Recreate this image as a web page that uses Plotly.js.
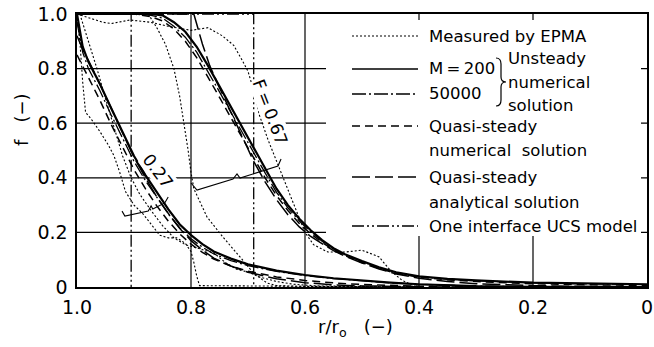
<!DOCTYPE html>
<html><head><meta charset="utf-8">
<script src="https://cdn.plot.ly/plotly-3.0.1.min.js"></script>
<style>html,body{margin:0;padding:0;background:#fff;}#chart{width:654px;height:347px;}</style>
</head><body><div id="chart"></div>
<script>
// ---- tick labels ----
const xTickVals = [1.0, 0.8, 0.6, 0.4, 0.2, 0];
const xTickText = ['1.0', '0.8', '0.6', '0.4', '0.2', '0'];
const yTickVals = [0, 0.2, 0.4, 0.6, 0.8, 1.0];
const yTickText = ['0', '0.2', '0.4', '0.6', '0.8', '1.0'];

// ---- Measured by EPMA ----
const r_epma27a = [1.0,0.995,0.99,0.985,0.975,0.96,0.945,0.935,0.925,0.915,0.9,0.885,0.87,0.855,0.84,0.825,0.81,0.8,0.795,0.79,0.785,0.6,0.4];
const f_epma27a = [1.0,0.9,0.75,0.64,0.615,0.57,0.52,0.48,0.42,0.35,0.3,0.27,0.23,0.19,0.18,0.18,0.16,0.13,0.09,0.04,0.005,0.003,0.0];
const r_epma27b = [0.995,0.98,0.965,0.95,0.935,0.92,0.905,0.89,0.87,0.85,0.83,0.81,0.795,0.76,0.74,0.72,0.70,0.68,0.65,0.62,0.58,0.5,0.4];
const f_epma27b = [1.0,0.9,0.8,0.69,0.58,0.48,0.40,0.34,0.28,0.225,0.18,0.155,0.146,0.125,0.09,0.065,0.055,0.037,0.02,0.01,0.004,0.002,0.0];
const r_epma67a = [1.0,0.955,0.94,0.907,0.872,0.84,0.80,0.77,0.745,0.725,0.71,0.70,0.69,0.68,0.665,0.65,0.635,0.615,0.60,0.585,0.56,0.53,0.50,0.47,0.45,0.43,0.41,0.40];
const f_epma67a = [1.0,0.97,0.965,0.978,0.97,0.955,0.94,0.95,0.92,0.885,0.83,0.79,0.72,0.63,0.54,0.46,0.38,0.28,0.2,0.155,0.128,0.128,0.135,0.11,0.06,0.025,0.005,0.0];
const r_epma67b = [0.875,0.86,0.845,0.83,0.82,0.812,0.805,0.80,0.795,0.772,0.744,0.714,0.69,0.667,0.65,0.6,0.5,0.4];
const f_epma67b = [1.0,0.95,0.89,0.8,0.7,0.6,0.5,0.42,0.36,0.257,0.183,0.11,0.05,0.015,0.005,0.002,0.001,0.0];

// ---- computed, F = 0.27 ----
const r_c27 = [1.0,0.99,0.98,0.96,0.94,0.92,0.90,0.88,0.86,0.84,0.82,0.80,0.78,0.76,0.73,0.70,0.65,0.60,0.55,0.50,0.45,0.40,0.35,0.30,0.20,0.0];
const f_m200_27 = [1.0,0.88,0.825,0.745,0.655,0.565,0.48,0.41,0.345,0.285,0.23,0.19,0.157,0.13,0.104,0.083,0.06,0.044,0.032,0.023,0.016,0.01,0.006,0.003,0.001,0];
const f_m5e4_27 = [0.97,0.86,0.80,0.72,0.63,0.545,0.46,0.39,0.327,0.268,0.217,0.177,0.146,0.121,0.097,0.078,0.057,0.042,0.031,0.022,0.015,0.01,0.006,0.003,0.001,0];
const f_qsn_27 = [0.85,0.81,0.77,0.685,0.595,0.51,0.43,0.36,0.297,0.242,0.195,0.157,0.127,0.102,0.077,0.058,0.037,0.024,0.015,0.009,0.005,0.003,0.001,0.0005,0,0];
const f_qsa_27 = [0.92,0.87,0.83,0.745,0.655,0.565,0.475,0.40,0.33,0.27,0.215,0.17,0.135,0.106,0.077,0.054,0.03,0.016,0.008,0.004,0.002,0.001,0,0,0,0];

// ---- computed, F = 0.67 ----
const r_c67 = [1.0,0.90,0.87,0.85,0.83,0.81,0.79,0.77,0.75,0.73,0.71,0.69,0.67,0.65,0.63,0.61,0.59,0.57,0.55,0.53,0.50,0.47,0.44,0.40,0.35,0.30,0.20,0.10,0.0];
const f_m200_67 = [1.0,1.0,1.0,0.995,0.97,0.935,0.88,0.81,0.735,0.66,0.585,0.51,0.435,0.36,0.30,0.25,0.208,0.172,0.142,0.12,0.095,0.072,0.054,0.039,0.03,0.024,0.016,0.012,0.01];
const f_m5e4_67 = [1.0,1.0,0.995,0.985,0.955,0.915,0.86,0.79,0.715,0.64,0.565,0.49,0.418,0.347,0.29,0.242,0.202,0.168,0.139,0.118,0.093,0.071,0.053,0.038,0.029,0.023,0.015,0.011,0.009];
const f_qsn_67 = [1.0,1.0,0.99,0.975,0.945,0.90,0.84,0.77,0.695,0.62,0.545,0.47,0.40,0.335,0.28,0.233,0.195,0.163,0.136,0.115,0.09,0.068,0.05,0.036,0.026,0.02,0.012,0.008,0.006];
const r_qsa_67 = [1.0,0.795,0.78,0.767,0.75,0.73,0.71,0.69,0.67,0.65,0.63,0.61,0.59,0.57,0.55,0.53,0.50,0.47,0.44,0.40,0.35,0.30,0.20,0.10,0.0];
const f_qsa_67 = [1.0,1.0,0.89,0.81,0.73,0.64,0.545,0.46,0.385,0.32,0.265,0.22,0.185,0.158,0.133,0.113,0.088,0.066,0.048,0.032,0.02,0.012,0.005,0.002,0.001];

// ---- one interface UCS model ----
const r_ucs27 = [1.0, 0.905, 0.905];
const f_ucs27 = [1.0, 1.0, 0.0];
const r_ucs67 = [1.0, 0.69, 0.69];
const f_ucs67 = [1.0, 1.0, 0.0];

// ---- styles ----
const FONT = 'DejaVu Sans, Liberation Sans, Arial, sans-serif';
const S_EPMA = {color:'#000', width:1.1, dash:'2px,2px'};
const S_M200 = {color:'#000', width:2.2};
const S_M5E4 = {color:'#000', width:1.3, dash:'14px,3px,2px,3px'};
const S_QSN  = {color:'#000', width:1.5, dash:'8px,5px'};
const S_QSA  = {color:'#000', width:1.5, dash:'18px,5px'};
const S_UCS  = {color:'#000', width:1.3, dash:'12px,3px,2px,3px,2px,3px'};

function tr(x, y, line){ return {x:x, y:y, type:'scatter', mode:'lines', line:line, showlegend:false, hoverinfo:'skip'}; }

const data = [
  tr(r_epma27a, f_epma27a, S_EPMA), tr(r_epma27b, f_epma27b, S_EPMA),
  tr(r_epma67a, f_epma67a, S_EPMA), tr(r_epma67b, f_epma67b, S_EPMA),
  tr(r_c27, f_qsn_27, S_QSN), tr(r_c27, f_qsa_27, S_QSA), tr(r_c27, f_m5e4_27, S_M5E4), tr(r_c27, f_m200_27, S_M200),
  tr(r_c67, f_qsn_67, S_QSN), tr(r_qsa_67, f_qsa_67, S_QSA), tr(r_c67, f_m5e4_67, S_M5E4), tr(r_c67, f_m200_67, S_M200),
  tr(r_ucs27, f_ucs27, S_UCS), tr(r_ucs67, f_ucs67, S_UCS)
];

// ---- layout helpers (pixel -> paper / axis fraction) ----
const PL = 77, PR = 647, PT = 14, PB = 287;
const PX = p => (p - PL) / (PR - PL);
const PY = p => (PB - p) / (PB - PT);
const DX = p => 1 - PX(p);   // reversed x axis: pixel -> data r/r0
const DY = p => PY(p);       // y axis 0..1: pixel -> data f

const shapes = [];
// grid lines
[0.2, 0.4, 0.6, 0.8].forEach(v => {
  shapes.push({type:'line', layer:'below', xref:'x', yref:'y', x0:1, x1:0, y0:v, y1:v, line:{color:'#000', width:1.2}});
  shapes.push({type:'line', layer:'below', xref:'x', yref:'y', x0:v, x1:v, y0:0, y1:1, line:{color:'#000', width:1.2}});
});
// white legend panel (same subplot layer, drawn after the grid)
shapes.push({type:'rect', layer:'below', xref:'x', yref:'y', x0:DX(326), x1:DX(641), y0:DY(236), y1:DY(20), fillcolor:'#fff', line:{width:0}});

// legend line samples
const legRows = [[36, S_EPMA], [69, S_M200], [94, S_M5E4], [126, S_QSN], [177, S_QSA], [226, S_UCS]];
legRows.forEach(([py, st]) => {
  shapes.push({type:'line', layer:'above', xref:'paper', yref:'paper', x0:PX(352), x1:PX(418), y0:PY(py), y1:PY(py), line:Object.assign({}, st, {width: Math.min(st.width, 1.6)})});
});
// legend brace
function pth(pts){ return pts.map(c => c[0] + ' ' + PX(c[1]).toFixed(5) + ',' + PY(c[2]).toFixed(5)).join(' '); }
shapes.push({type:'path', layer:'above', xref:'paper', yref:'paper', line:{color:'#000', width:1.2},
  path: pth([['M',496,58],['Q',501,58],['',501,64],['L',501,77],['Q',501,82],['',506,82],['Q',501,82],['',501,87],['L',501,100],['Q',501,106],['',496,106]])});
// data brackets
function dpth(pts){ return pts.map(c => c[0] + ' ' + c[1] + ',' + c[2]).join(' '); }
shapes.push({type:'path', layer:'above', xref:'x', yref:'y', line:{color:'#000', width:1.1},
  path: dpth([['M',0.8,0.381],['L',0.7895,0.355],['L',0.7263,0.3956],['L',0.7193,0.414],['L',0.714,0.399],['L',0.6474,0.443],['L',0.642,0.469]])});
shapes.push({type:'path', layer:'above', xref:'x', yref:'y', line:{color:'#000', width:1.1},
  path: dpth([['M',0.921,0.278],['L',0.916,0.26],['L',0.875,0.278],['L',0.870,0.297],['L',0.867,0.286],['L',0.846,0.308],['L',0.840,0.330]])});

function ann(text, px, py, extra){
  return Object.assign({text:text, xref:'paper', yref:'paper', x:PX(px), y:PY(py), xanchor:'left', yanchor:'middle', showarrow:false,
    font:{family:FONT, size:16.5, color:'#000'}}, extra || {});
}
const annotations = [
  ann('Measured by EPMA', 427, 36),
  ann('M\u2009=\u2009200', 427, 69),
  ann('50000', 427, 94),
  ann('Unsteady', 506, 59),
  ann('numerical', 506, 82),
  ann('solution', 506, 105),
  ann('Quasi-steady', 427, 126),
  ann('numerical\u00a0 solution', 427, 150),
  ann('Quasi-steady', 427, 177),
  ann('analytical solution', 427, 202),
  ann('One interface UCS model', 427, 226),
  // curve labels
  {text:'F\u2009=\u20090.67', xref:'x', yref:'y', x:0.661, y:0.641, textangle:69, showarrow:false, bgcolor:'#fff', borderpad:0,
    font:{family:FONT, size:17, color:'#000'}},
  {text:'0.27', xref:'x', yref:'y', x:0.858, y:0.425, textangle:53, showarrow:false, bgcolor:'#fff', borderpad:0,
    font:{family:FONT, size:17, color:'#000'}},
  // axis titles
  {text:'r/r<sub>o</sub>\u00a0\u00a0\u00a0(\u2212)', xref:'paper', yref:'paper', x:PX(355), y:PY(328), xanchor:'center', yanchor:'middle', showarrow:false,
    font:{family:FONT, size:18, color:'#000'}},
  {text:'f\u00a0\u00a0\u00a0(\u2212)', xref:'paper', yref:'paper', x:PX(22), y:PY(120), xanchor:'center', yanchor:'middle', textangle:-90, showarrow:false,
    font:{family:FONT, size:18, color:'#000'}}
];

const axisCommon = {showgrid:false, zeroline:false, showline:true, mirror:true, linecolor:'#000', linewidth:1.6,
  ticks:'', tickfont:{family:FONT, size:19, color:'#000'}, fixedrange:true};

const layout = {
  width:654, height:347, margin:{l:PL, r:654-PR, t:PT, b:347-PB},
  paper_bgcolor:'#fff', plot_bgcolor:'#fff', showlegend:false,
  xaxis:Object.assign({}, axisCommon, {range:[1, 0], tickmode:'array', tickvals:xTickVals, ticktext:xTickText, ticklabelstandoff:3}),
  yaxis:Object.assign({}, axisCommon, {range:[0, 1], tickmode:'array', tickvals:yTickVals, ticktext:yTickText, ticklabelstandoff:4}),
  shapes:shapes, annotations:annotations
};

Plotly.newPlot('chart', data, layout, {staticPlot:true, displayModeBar:false});
</script></body></html>
